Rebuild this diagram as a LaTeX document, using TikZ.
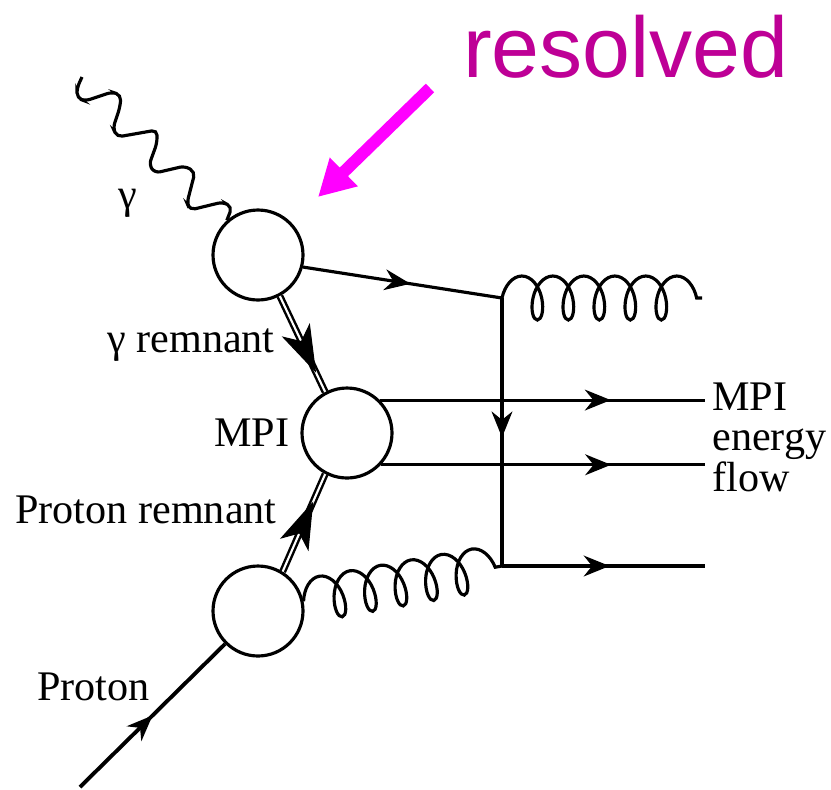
\documentclass[tikz,border=0pt]{standalone}
\usepackage{fontspec}
\setmainfont{Liberation Serif}
\newfontfamily\labelsans{Liberation Sans}
\usetikzlibrary{arrows.meta,decorations.markings,decorations.pathmorphing}
\definecolor{resolvedtext}{RGB}{190,0,150}
\definecolor{pointer}{RGB}{255,0,255}
\tikzset{
    blob/.style = {circle, draw, line width = 1.8pt, minimum size = 1.8cm, inner sep = 0pt},
    lab/.style = {font = \fontsize{24}{23}\selectfont, inner sep = 0pt},
    plain/.style = {line width = 1.8pt},
    arrowat/.style = {postaction = {decorate}, decoration = {markings, mark = at position #1 with {\arrow[line width = 1pt]{Stealth[length = 0.52cm, width = 0.42cm, inset = 0.17cm]}}}},
    bigarrowat/.style = {postaction = {decorate}, decoration = {markings, mark = at position #1 with {\arrow[line width = 0.6pt]{Stealth[length = 0.95cm, width = 0.62cm, inset = 0.25cm]}}}},
    remnant/.style = {double, line width = 1.4pt, double distance = 1.2pt},
    gluon/.style = {line width = 1.8pt, decorate, decoration = {coil, aspect = 0.55, segment length = 0.62cm, amplitude = 0.44cm}}
}
\begin{document}
\begin{tikzpicture}[x = 0.02cm, y = -0.02cm]
        \useasboundingbox (0, 0) rectangle (831, 789);
        \node[blob] (top) at (258, 255) {};
        \node[blob] (mid) at (347, 433) {};
        \node[blob] (bot) at (258, 611) {};
        \coordinate (photon) at (82, 77);
        \coordinate (in) at (80, 787);
        \coordinate (kink) at (502, 298);
        \coordinate (turn) at (502, 566);
        \coordinate (gend) at (702, 298);
        \coordinate (out1) at (705, 402);
        \coordinate (out2) at (705, 463);
        \coordinate (out3) at (705, 566);
        \coordinate (tail) at (430, 88);
        \coordinate (tip) at (318, 197);

        \draw[plain, rounded corners = 3pt] (photon) -- (77, 88) -- (77, 98) -- (85, 101) -- (112, 92) -- (121, 95) -- (120, 107) -- (113, 128) -- (117, 137) -- (157, 130) -- (157, 143) -- (149, 165) -- (155, 173) -- (185, 166) -- (195, 172) -- (187, 203) -- (190, 210) -- (223, 202) -- (232, 207) -- (top.132);

        \draw[plain, arrowat = 0.54] (top.-15) -- (kink);
        \draw[plain, arrowat = 0.52] (kink) -- (turn);
        \draw[plain, arrowat = 0.53] (turn) -- (out3);
        \draw[plain, arrowat = 0.71] (mid.45) -- (mid.45 -| out1);
        \draw[plain, arrowat = 0.71] (mid.-43) -- (mid.-43 -| out2);
        \draw[line width = 2.2pt, arrowat = 0.5] (in) -- (bot.225);
        \draw[remnant, bigarrowat = 0.8] (top.-62) -- (mid.118);
        \draw[remnant, bigarrowat = 0.72] (bot.58) -- (mid.-118);
        \draw[gluon] (kink) -- (gend);
        \draw[gluon] (bot.12) -- (turn);

        \draw[pointer, line width = 0.24cm, -{Triangle[length = 0.72cm, width = 0.75cm]}] (tail) -- (tip);

        \node[lab] (gam) at (128, 203) {γ};
        \node[lab, anchor = west] (gamrem) at (107, 345) {γ remnant};
        \node[lab] (mpilab) at (252, 433) {MPI};
        \node[lab, anchor = west] (prorem) at (15, 510) {Proton remnant};
        \node[lab, anchor = west] (pro) at (37, 687) {Proton};
        \node[lab, anchor = west, align = left] (flowlab) at (712, 437) {MPI\\energy\\flow};
        \node[font = \labelsans\fontsize{49}{50}\selectfont, text = resolvedtext, inner sep = 0pt] (res) at (626, 47) {resolved};
    \end{tikzpicture}
\end{document}
